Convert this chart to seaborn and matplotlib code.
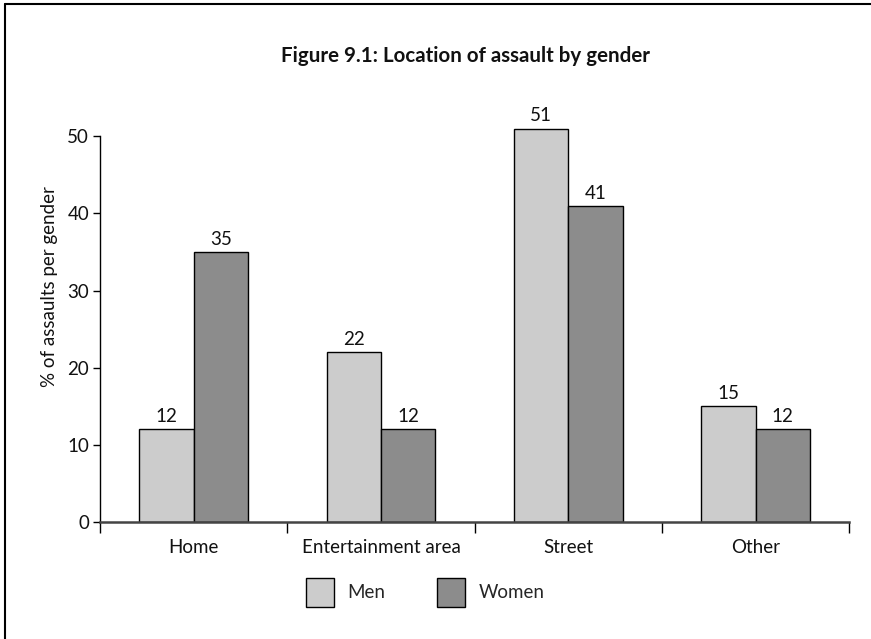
import matplotlib
matplotlib.use("Agg")
import matplotlib.pyplot as plt
import seaborn as sns
import pandas as pd
from matplotlib.lines import Line2D
from matplotlib.patches import Patch

categories = ["Home", "Entertainment area", "Street", "Other"]
men = [12, 22, 51, 15]
women = [35, 12, 41, 12]
series_names = ["Men", "Women"]
colors = ["#cccccc", "#8c8c8c"]
yticks = [0, 10, 20, 30, 40, 50]

df = pd.DataFrame({
    "Location": categories * 2,
    "Gender": [series_names[0]] * len(categories) + [series_names[1]] * len(categories),
    "Value": men + women,
})

sns.set_style("white")
plt.rcParams["font.family"] = ["Lato", "DejaVu Sans"]

FS = 13.5

fig = plt.figure(figsize=(8.71, 6.39), dpi=100)
ax = fig.add_axes([0.115, 0.183, 0.86, 0.664])

sns.barplot(data=df, x="Location", y="Value", hue="Gender", palette=colors,
            width=0.58, gap=0, edgecolor="black", linewidth=1.0,
            errorbar=None, ax=ax, legend=False)

for cont in ax.containers:
    ax.bar_label(cont, fmt="%d", padding=3, fontsize=FS, color="#111111")

ax.set_ylim(0, 55)
ax.set_xlim(-0.5, 3.5)
ax.set_yticks(yticks)
ax.set_yticklabels([str(t) for t in yticks], fontsize=FS, color="#111111")
ax.set_xticks([0, 1, 2, 3])
ax.set_xticklabels(categories, fontsize=FS, color="#111111")
ax.tick_params(axis="x", length=0, pad=12)
ax.tick_params(axis="y", length=5, width=1, color="black", direction="out", pad=3, left=True)

# category boundary ticks on the x axis
ax.set_xticks([-0.5, 0.5, 1.5, 2.5, 3.5], minor=True)
ax.tick_params(axis="x", which="minor", length=8, width=1, color="black", direction="out", bottom=True)

for s in ["top", "right"]:
    ax.spines[s].set_visible(False)
ax.spines["left"].set_bounds(0, 50)
ax.spines["left"].set_color("black")
ax.spines["left"].set_linewidth(1.0)
ax.spines["bottom"].set_color("#444444")
ax.spines["bottom"].set_linewidth(1.8)

ax.set_xlabel("")
ax.set_ylabel("% of assaults per gender", fontsize=FS, color="#111111")
ax.yaxis.set_label_coords(-0.056, 0.554)

fig.text(0.534, 0.912, "Figure 9.1: Location of assault by gender", ha="center", va="center",
         fontsize=14.8, fontweight="bold", color="#111111")

handles = [Patch(facecolor=c, edgecolor="black", linewidth=1.0) for c in colors]
fig.legend(handles, series_names, loc="center", bbox_to_anchor=(0.488, 0.073), ncol=2,
           frameon=False, fontsize=FS, handlelength=1.5, handleheight=2.0,
           columnspacing=2.8, handletextpad=0.7)

# frame lines (left and top)
fig.add_artist(Line2D([0.006, 0.006], [0, 0.994], transform=fig.transFigure, color="black", linewidth=1.5))
fig.add_artist(Line2D([0.006, 1.0], [0.994, 0.994], transform=fig.transFigure, color="black", linewidth=1.5))

fig.savefig("out.png", dpi=100, facecolor="white")
